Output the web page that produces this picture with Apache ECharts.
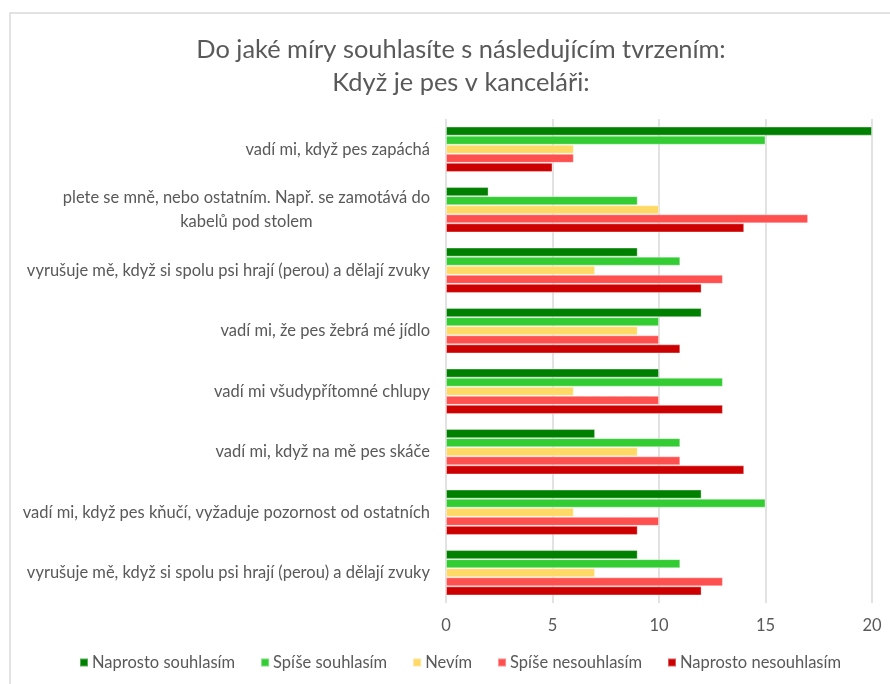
<!DOCTYPE html>
<html>
<head>
<meta charset="utf-8">
<script src="https://cdn.jsdelivr.net/npm/echarts@6/dist/echarts.min.js"></script>
<style>
  html, body { margin: 0; padding: 0; background: #ffffff; }
  #chart { width: 890px; height: 684px; }
</style>
</head>
<body>
<div id="chart"></div>
<script>
// Survey statements (top to bottom)
const categories = [
  'vadí mi, když pes zapáchá',
  'plete se mně, nebo ostatním. Např. se zamotává do\nkabelů pod stolem',
  'vyrušuje mě, když si spolu psi hrají (perou) a dělají zvuky',
  'vadí mi, že pes žebrá mé jídlo',
  'vadí mi všudypřítomné chlupy',
  'vadí mi, když na mě pes skáče',
  'vadí mi, když pes kňučí, vyžaduje pozornost od ostatních',
  'vyrušuje mě, když si spolu psi hrají (perou) a dělají zvuky'
];

const seriesNames = ['Naprosto souhlasím', 'Spíše souhlasím', 'Nevím', 'Spíše nesouhlasím', 'Naprosto nesouhlasím'];

// Response counts per statement
const naprostoSouhlasim   = [20,  2,  9, 12, 10,  7, 12,  9];
const spiseSouhlasim      = [15,  9, 11, 10, 13, 11, 15, 11];
const nevim               = [ 6, 10,  7,  9,  6,  9,  6,  7];
const spiseNesouhlasim    = [ 6, 17, 13, 10, 10, 11, 10, 13];
const naprostoNesouhlasim = [ 5, 14, 12, 11, 13, 14,  9, 12];

const xTicks = [0, 5, 10, 15, 20];

const colors = ['#008000', '#33CC33', '#FFD966', '#FF5050', '#CC0000'];
const seriesData = [naprostoSouhlasim, spiseSouhlasim, nevim, spiseNesouhlasim, naprostoNesouhlasim];

const FONT = 'Lato, "Open Sans", sans-serif';
const TEXT = '#595959';
const LABEL_SIZE = 16.5;

const chart = echarts.init(document.getElementById('chart'), null, { renderer: 'canvas' });

chart.setOption({
  animation: false,
  backgroundColor: '#ffffff',
  color: colors,
  textStyle: { fontFamily: FONT },
  title: {
    text: 'Do jaké míry souhlasíte s následujícím tvrzením:\nKdyž je pes v kanceláři:',
    left: 456,
    textAlign: 'center',
    top: 28,
    textStyle: {
      fontFamily: FONT,
      fontSize: 25.4,
      fontWeight: 'normal',
      color: TEXT,
      lineHeight: 33
    }
  },
  graphic: [{
    type: 'rect',
    silent: true,
    shape: { x: 10, y: 13, width: 900, height: 700 },
    style: { fill: 'none', stroke: '#d9d9d9', lineWidth: 1.5 }
  }],
  legend: {
    bottom: 8,
    left: 74,
    itemWidth: 8,
    itemHeight: 8,
    itemGap: 25,
    icon: 'rect',
    textStyle: { fontFamily: FONT, fontSize: LABEL_SIZE, color: TEXT, padding: [0, 0, 0, -1] },
    data: seriesNames
  },
  grid: {
    left: 446,
    right: 18,
    top: 119,
    bottom: 81,
    containLabel: false
  },
  xAxis: {
    type: 'value',
    min: 0,
    max: 20,
    interval: 5,
    axisLine: { show: false },
    axisTick: { show: false },
    axisLabel: {
      fontFamily: FONT,
      fontSize: LABEL_SIZE,
      color: TEXT,
      margin: 14,
      formatter: v => (xTicks.includes(v) ? String(v) : '')
    },
    splitLine: { show: true, lineStyle: { color: '#d9d9d9', width: 1.5 } }
  },
  yAxis: {
    type: 'category',
    inverse: true,
    data: categories,
    axisLine: { show: false },
    axisTick: { show: false },
    axisLabel: {
      margin: 16,
      fontFamily: FONT,
      fontSize: LABEL_SIZE,
      color: TEXT,
      lineHeight: 24,
      formatter: v => v.split('\n').map(l => '{c|' + l + '}').join('\n'),
      rich: {
        c: { fontFamily: FONT, fontSize: LABEL_SIZE, color: TEXT, align: 'center', lineHeight: 24 }
      }
    }
  },
  series: seriesNames.map((name, i) => ({
    name,
    type: 'bar',
    data: seriesData[i],
    barGap: '0%',
    barCategoryGap: '25%',
    itemStyle: {
      color: colors[i],
      borderColor: 'rgba(255,255,255,0.35)',
      borderWidth: 1
    }
  }))
});
</script>
</body>
</html>
